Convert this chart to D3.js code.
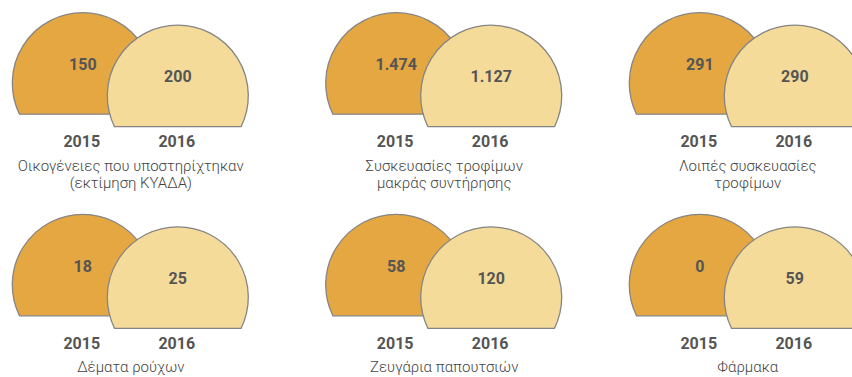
<!DOCTYPE html>
<html>
<head>
<meta charset="utf-8">
<script src="https://cdn.jsdelivr.net/npm/d3@7"></script>
<style>
  html, body { margin: 0; padding: 0; background: #fff; }
  svg { display: block; }
</style>
</head>
<body>
<svg id="chart" width="852" height="377"></svg>
<script>
// Aid distributed per category, 2015 vs 2016
const categories = [
  ["Οικογένειες που υποστηρίχτηκαν", "(εκτίμηση ΚΥΑΔΑ)"],
  ["Συσκευασίες τροφίμων", "μακράς συντήρησης"],
  ["Λοιπές συσκευασίες", "τροφίμων"],
  ["Δέματα ρούχων"],
  ["Ζευγάρια παπουτσιών"],
  ["Φάρμακα"]
];
const years = ["2015", "2016"];
const values2015 = [150, 1474, 291, 18, 58, 0];
const values2016 = [200, 1127, 290, 25, 120, 59];

const svg = d3.select("#chart");

// Greek number formatting: "." as thousands separator
const fmt = d3.formatLocale({ decimal: ",", thousands: ".", grouping: [3], currency: ["€", ""] }).format(",d");

// Panel placement
const colX = d3.scaleOrdinal().domain([0, 1, 2]).range([82.8, 396.2, 699.8]);
const rowY = d3.scaleOrdinal().domain([0, 1]).range([83.2, 284.8]);
const yearOffset = d3.scaleOrdinal().domain(years).range([[0, 0], [95, 12.5]]);
const fill = d3.scaleOrdinal().domain(years).range(["#E5A742", "#F5DB99"]);

const R = 70.5;          // dome radius
const H = 31;            // chord distance below the centre
const W = Math.sqrt(R * R - H * H);

function dome(cx, cy) {
  return `M${cx - W},${cy + H}A${R},${R} 0 1 1 ${cx + W},${cy + H}Z`;
}

const panels = categories.map((c, i) => ({
  lines: c,
  col: i % 3,
  row: Math.floor(i / 3),
  vals: [values2015[i], values2016[i]]
}));

const g = svg.selectAll("g.panel").data(panels).join("g").attr("class", "panel");

g.each(function (p) {
  const sel = d3.select(this);
  const x0 = colX(p.col), y0 = rowY(p.row);
  years.forEach((yr, k) => {
    const [dx, dy] = yearOffset(yr);
    const cx = x0 + dx, cy = y0 + dy;
    sel.append("path")
      .attr("d", dome(cx, cy))
      .attr("fill", fill(yr))
      .attr("stroke", "#858585")
      .attr("stroke-width", 1.3);
    sel.append("text")
      .attr("x", cx)
      .attr("y", cy - 19)
      .attr("dy", "0.36em")
      .attr("text-anchor", "middle")
      .attr("font-family", "Roboto, sans-serif")
      .attr("font-weight", 700)
      .attr("font-size", 16)
      .attr("fill", "#555555")
      .text(fmt(p.vals[k]));
    sel.append("text")
      .attr("x", cx - 1)
      .attr("y", y0 + 58.1)
      .attr("dy", "0.36em")
      .attr("text-anchor", "middle")
      .attr("font-family", "Roboto, sans-serif")
      .attr("font-weight", 700)
      .attr("font-size", 16)
      .attr("fill", "#555555")
      .text(yr);
  });
  sel.append("text")
    .attr("x", x0 + 48)
    .attr("y", y0 + 87.5)
    .attr("text-anchor", "middle")
    .attr("font-family", "Roboto, sans-serif")
    .attr("font-weight", 300)
    .attr("font-size", 15)
    .attr("fill", "#444444")
    .selectAll("tspan")
    .data(p.lines)
    .join("tspan")
    .attr("x", x0 + 48)
    .attr("dy", (d, i) => i === 0 ? 0 : 17.6)
    .text(d => d);
});
</script>
</body>
</html>
